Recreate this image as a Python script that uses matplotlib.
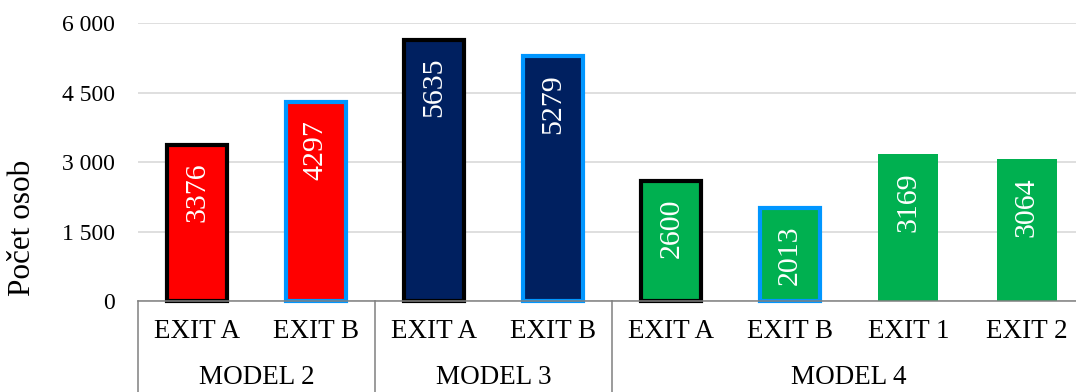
import matplotlib
matplotlib.use("Agg")
import matplotlib.pyplot as plt
from matplotlib.ticker import FuncFormatter

plt.rcParams['font.family'] = ['Liberation Serif', 'DejaVu Serif']

exits = ["EXIT A", "EXIT B", "EXIT A", "EXIT B", "EXIT A", "EXIT B", "EXIT 1", "EXIT 2"]
models = ["MODEL 2", "MODEL 3", "MODEL 4"]
model_sizes = [2, 2, 4]
values = [3376, 4297, 5635, 5279, 2600, 2013, 3169, 3064]
fill_colors = ["#FF0000", "#FF0000", "#002060", "#002060", "#00B050", "#00B050", "#00B050", "#00B050"]
edge_colors = ["black", "#0096FF", "black", "#0096FF", "black", "#0096FF", "none", "none"]
yticks = [0, 1500, 3000, 4500, 6000]

W, H = 1076, 392
fig = plt.figure(figsize=(W / 100, H / 100), dpi=100)
x0, x1 = 138, 1086
y_top, y_base = 23, 301
ax = fig.add_axes([x0 / W, 1 - y_base / H, (x1 - x0) / W, (y_base - y_top) / H])

xs = list(range(len(values)))
for i, v in enumerate(values):
    lw = 3.0 if edge_colors[i] != "none" else 0
    ax.bar(xs[i], v, width=0.506, color=fill_colors[i], edgecolor=edge_colors[i],
           linewidth=lw, zorder=3, clip_on=False)
    ax.annotate(str(v), (xs[i], v), xytext=(0, -13), textcoords="offset points",
                rotation=90, ha="center", va="top", color="white", fontsize=21.5, zorder=4)

ax.set_xlim(-0.5, len(values) - 0.5)
ax.set_ylim(0, 6000)
ax.set_yticks(yticks)
ax.yaxis.set_major_formatter(FuncFormatter(lambda v, p: f"{int(v):,}".replace(",", " ")))
ax.tick_params(axis="y", length=0, pad=16.5, labelsize=17)
ax.set_xticks([])
ax.grid(axis="y", color="#D9D9D9", linewidth=1.2, zorder=0)
for s in ["top", "right", "left"]:
    ax.spines[s].set_visible(False)
ax.spines["bottom"].set_color("#808080")
ax.spines["bottom"].set_linewidth(1.1)
ax.spines["bottom"].set_zorder(5)

trans = ax.get_xaxis_transform()
h = y_base - y_top
y_exit = (y_base - 332) / h
y_model = (y_base - 378) / h
y_end = (y_base - 400) / h
for i, lab in enumerate(exits):
    ax.text(xs[i], y_exit, lab, transform=trans, ha="center", va="center", fontsize=19.5)

start = 0
bounds = [-0.5]
for m, n in zip(models, model_sizes):
    center = start + (n - 1) / 2
    ax.text(center, y_model, m, transform=trans, ha="center", va="center", fontsize=19.5)
    start += n
    bounds.append(start - 0.5)
for b in bounds[:-1]:
    ax.plot([b, b], [0, y_end], transform=trans, color="#808080", linewidth=1.1, clip_on=False)

fig.text(23 / W, 1 - 228 / H, "Počet osob", rotation=90, ha="center", va="center", fontsize=22.5)

fig.savefig("out.png", dpi=100)
